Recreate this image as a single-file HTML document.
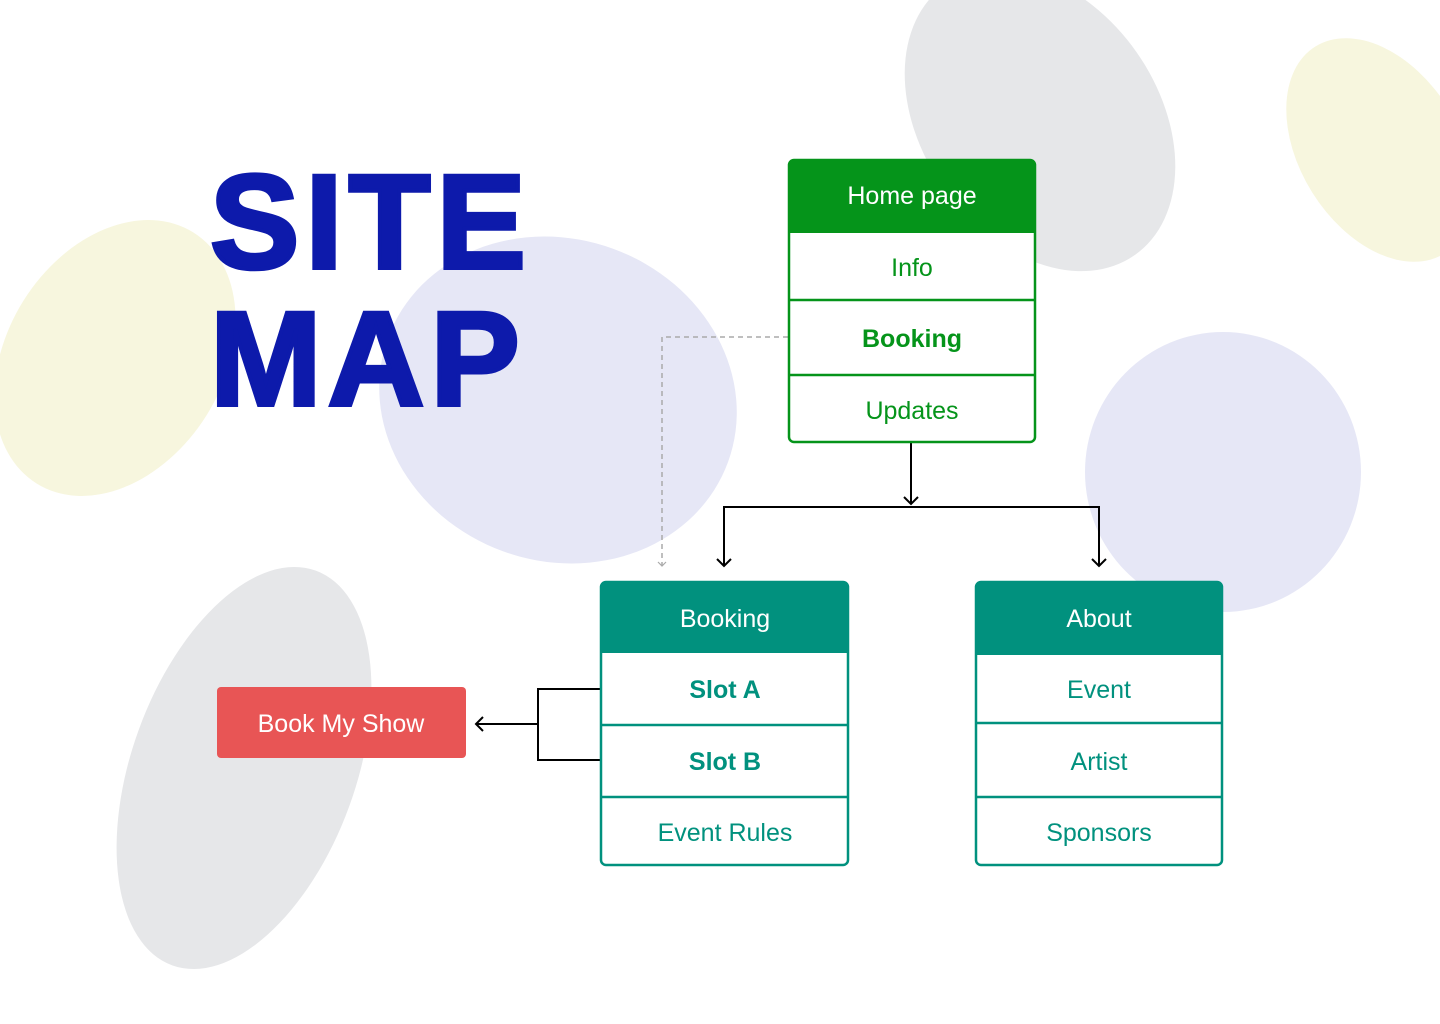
<!DOCTYPE html>
<html><head><meta charset="utf-8"><style>
html,body{margin:0;padding:0;background:#fff;}
svg{display:block;}
text{font-family:"Liberation Sans",sans-serif;}
</style></head><body>
<svg width="1440" height="1024" viewBox="0 0 1440 1024" xmlns="http://www.w3.org/2000/svg">
<rect width="1440" height="1024" fill="#fff"/>
<ellipse cx="115" cy="358" rx="108" ry="148" transform="rotate(32 115 358)" fill="#f7f6de"/>
<ellipse cx="558" cy="400" rx="181" ry="161" transform="rotate(20 558 400)" fill="#e6e7f6"/>
<ellipse cx="1040" cy="120" rx="118" ry="165" transform="rotate(-35 1040 120)" fill="#e6e7e9"/>
<ellipse cx="1380" cy="150" rx="80" ry="122" transform="rotate(-32 1380 150)" fill="#f7f6de"/>
<ellipse cx="1223" cy="472" rx="138" ry="140" fill="#e6e7f6"/>
<ellipse cx="244" cy="768" rx="112" ry="210" transform="rotate(20 244 768)" fill="#e6e7e9"/>
<text x="210" y="268" font-size="134" font-weight="bold" fill="#0d1aab" stroke="#0d1aab" stroke-width="4" letter-spacing="6">SITE</text>
<text x="210" y="405" font-size="134" font-weight="bold" fill="#0d1aab" stroke="#0d1aab" stroke-width="4" letter-spacing="6">MAP</text>
<g fill="none" stroke="#000" stroke-width="2">
<path d="M911 443V504"/><path d="M904 497l7 7 7-7"/>
<path d="M724 566V507H1099V566"/>
<path d="M717 559l7 7 7-7"/><path d="M1092 559l7 7 7-7"/>
<path d="M600 689H538V760H600"/>
<path d="M538 724H476"/><path d="M483 717l-7 7 7 7"/>
</g>
<g fill="none" stroke="#aaa" stroke-width="1.5" stroke-dasharray="5 4">
<path d="M788 337H662V566"/>
</g>
<path d="M658 562l4 4 4-4" fill="none" stroke="#aaa" stroke-width="1.2"/>
<rect x="789" y="160" width="246" height="282" rx="5" fill="#fff" stroke="#05941a" stroke-width="2.5"/>
<path d="M794 159H1030a6 6 0 0 1 6 6V233H788V165a6 6 0 0 1 6-6z" fill="#05941a"/>
<line x1="789" y1="300" x2="1035" y2="300" stroke="#05941a" stroke-width="2.5"/>
<line x1="789" y1="375" x2="1035" y2="375" stroke="#05941a" stroke-width="2.5"/>
<g text-anchor="middle" font-size="25">
<text x="912" y="204" fill="#fff">Home page</text>
<text x="912" y="276" fill="#05941a">Info</text>
<text x="912" y="347" fill="#05941a" font-weight="bold">Booking</text>
<text x="912" y="419" fill="#05941a">Updates</text>
</g>
<rect x="601" y="582" width="247" height="283" rx="5" fill="#fff" stroke="#01917e" stroke-width="2.5"/>
<path d="M606 581H843a6 6 0 0 1 6 6V653H600V587a6 6 0 0 1 6-6z" fill="#01917e"/>
<line x1="601" y1="725" x2="848" y2="725" stroke="#01917e" stroke-width="2.5"/>
<line x1="601" y1="797" x2="848" y2="797" stroke="#01917e" stroke-width="2.5"/>
<g text-anchor="middle" font-size="25">
<text x="725" y="627" fill="#fff">Booking</text>
<text x="725" y="698" fill="#01917e" font-weight="bold">Slot A</text>
<text x="725" y="770" fill="#01917e" font-weight="bold">Slot B</text>
<text x="725" y="841" fill="#01917e">Event Rules</text>
</g>
<rect x="976" y="582" width="246" height="283" rx="5" fill="#fff" stroke="#01917e" stroke-width="2.5"/>
<path d="M981 581H1217a6 6 0 0 1 6 6V655H975V587a6 6 0 0 1 6-6z" fill="#01917e"/>
<line x1="976" y1="723" x2="1222" y2="723" stroke="#01917e" stroke-width="2.5"/>
<line x1="976" y1="797" x2="1222" y2="797" stroke="#01917e" stroke-width="2.5"/>
<g text-anchor="middle" font-size="25">
<text x="1099" y="627" fill="#fff">About</text>
<text x="1099" y="698" fill="#01917e">Event</text>
<text x="1099" y="770" fill="#01917e">Artist</text>
<text x="1099" y="841" fill="#01917e">Sponsors</text>
</g>
<rect x="217" y="687" width="249" height="71" rx="4" fill="#e85555"/>
<text x="341" y="732" text-anchor="middle" font-size="25" fill="#fff">Book My Show</text>
</svg>
</body></html>
